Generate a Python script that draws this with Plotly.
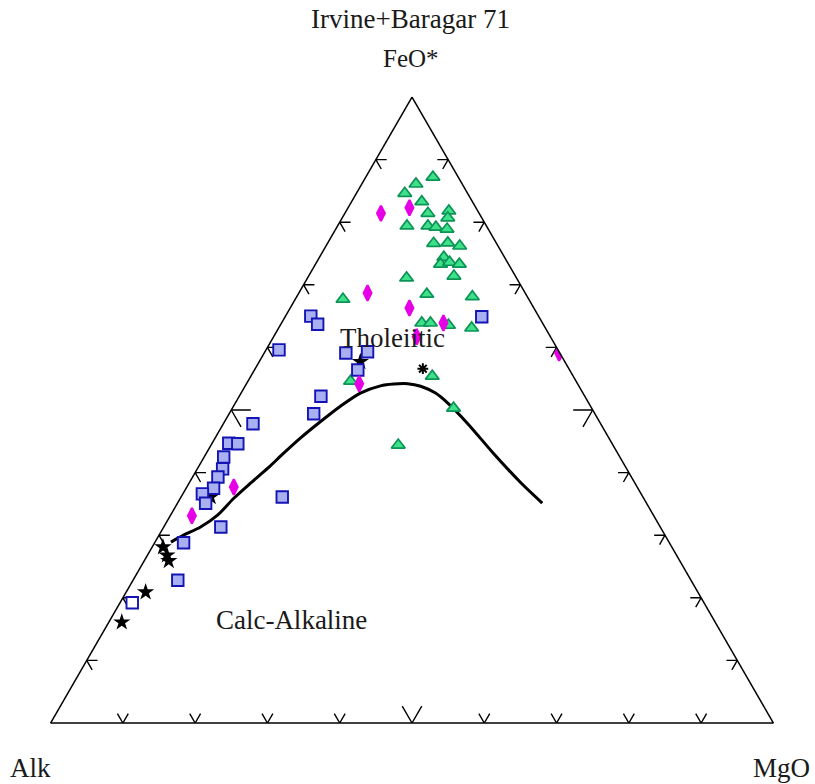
import plotly.graph_objects as go

# AFM diagram (Irvine & Baragar 1971): a = FeO*, b = Alk, c = MgO, all in %
# Tholeiitic / calc-alkaline dividing curve
curve_feo = [28.9, 30.0, 31.3, 33.2, 35.9, 38.3, 40.7, 43.1, 45.5, 48.2, 50.6, 52.7,
             53.8, 54.2, 54.2, 53.8, 52.7, 51.1, 47.9, 43.1, 38.5, 35.1]
curve_alk = [68.9, 66.6, 63.6, 60.3, 56.7, 53.2, 49.6, 46.2, 42.7, 38.5, 34.6, 30.8,
             27.4, 25.5, 23.5, 21.9, 20.4, 19.5, 18.4, 17.2, 15.8, 14.4]
curve_mgo = [2.2, 3.4, 5.1, 6.5, 7.4, 8.5, 9.7, 10.7, 11.8, 13.3, 14.8, 16.5,
             18.7, 20.4, 22.3, 24.3, 26.9, 29.4, 33.7, 39.7, 45.7, 50.4]

# Group 1 (green triangles)
tri_feo = [87.2, 86.1, 84.7, 83.2, 81.5, 81.8, 80.7, 79.4, 79.4, 79.2, 78.9, 76.7, 76.7,
           76.2, 74.4, 73.3, 73.6, 73.3, 71.4, 71.1, 68.5, 68.1, 67.7, 63.9, 63.9, 63.6,
           63.1, 54.6, 55.4, 50.3, 44.4]
tri_alk = [3.5, 6.4, 8.7, 7.0, 7.1, 4.0, 4.7, 11.0, 8.1, 7.1, 5.7, 8.7, 6.7,
           5.3, 8.4, 9.4, 8.0, 6.8, 8.5, 15.2, 13.7, 7.6, 25.7, 16.7, 15.5, 13.2,
           10.2, 31.2, 19.5, 19.1, 29.7]
tri_mgo = [9.3, 7.5, 6.7, 9.7, 11.5, 14.2, 14.6, 9.6, 12.5, 13.7, 15.4, 14.7, 16.6,
           18.5, 17.2, 17.3, 18.4, 19.9, 20.1, 13.7, 17.8, 24.3, 6.6, 19.4, 20.6, 23.3,
           26.7, 14.2, 25.1, 30.6, 25.9]

# Group 2 (magenta diamonds)
dia_feo = [81.5, 82.3, 68.7, 66.3, 63.9, 61.7, 54.2, 37.7, 33.1, 59.1]
dia_alk = [13.6, 9.2, 21.8, 17.2, 13.7, 18.5, 30.2, 55.8, 63.9, 0.1]
dia_mgo = [5.0, 8.5, 9.5, 16.5, 22.4, 19.8, 15.6, 6.5, 3.0, 40.8]

# Group 3 (blue squares)
sq_feo = [65.0, 63.7, 59.6, 59.1, 59.3, 56.4, 52.2, 49.4, 64.9, 47.8, 44.7, 44.6,
          42.5, 40.6, 39.3, 37.5, 36.6, 35.1, 36.1, 31.3, 28.8, 22.8]
sq_alk = [31.5, 31.2, 38.6, 29.6, 26.5, 29.3, 36.5, 38.9, 7.9, 48.1, 53.0, 51.8,
          54.8, 55.9, 57.2, 58.7, 60.7, 61.0, 49.9, 60.8, 67.2, 71.0]
sq_mgo = [3.5, 5.1, 1.8, 11.3, 14.2, 14.3, 11.3, 11.7, 27.2, 4.1, 2.3, 3.6,
          2.7, 3.5, 3.5, 3.8, 2.7, 3.9, 14.0, 7.9, 4.0, 6.2]

# Group 4 (open square)
osq_feo = [19.2]
osq_alk = [79.1]
osq_mgo = [1.7]

# Group 5 (black stars)
star_feo = [28.1, 26.8, 25.9, 20.9, 16.1, 36.1, 57.7]
star_alk = [70.4, 70.5, 70.7, 76.4, 82.1, 59.8, 28.3]
star_mgo = [1.5, 2.7, 3.4, 2.7, 1.8, 4.1, 14.0]

# Group 6 (asterisk)
ast_feo = [56.6]
ast_alk = [20.2]
ast_mgo = [23.2]

# Field labels
field_names = ["Tholeiitic", "Calc-Alkaline"]
field_feo = [61.2, 16.1]
field_alk = [22.1, 58.6]
field_mgo = [16.7, 25.3]

tick_values = [10, 20, 30, 40, 50, 60, 70, 80, 90]

SERIF = "Liberation Serif, Times New Roman, serif"
TEXT_COLOR = "#1a1a1a"


def chevrons(values):
    """Chevron ticks on the three edges; each arm runs parallel to one of
    the other two edges, pointing into the triangle."""
    A, B, C = [], [], []

    def add(pts):
        for p in pts:
            A.append(p[0]); B.append(p[1]); C.append(p[2])
        A.append(None); B.append(None); C.append(None)

    for v in values:
        d = 2.7 if v == 50 else 1.5
        # bottom edge (Alk - MgO)
        add([(d, 100 - v - d, v), (0, 100 - v, v), (d, 100 - v, v - d)])
        # right edge (MgO - FeO*)
        add([(v, d, 100 - v - d), (v, 0, 100 - v), (v - d, d, 100 - v)])
        # left edge (Alk - FeO*)
        add([(v, 100 - v - d, d), (v, 100 - v, 0), (v - d, 100 - v, d)])
    return A, B, C


fig = go.Figure()

ta, tb, tc = chevrons(tick_values)
fig.add_trace(go.Scatterternary(
    a=ta, b=tb, c=tc, mode="lines", connectgaps=False,
    line=dict(color="black", width=1.4), hoverinfo="skip", showlegend=False))

fig.add_trace(go.Scatterternary(
    a=curve_feo, b=curve_alk, c=curve_mgo, mode="lines",
    line=dict(color="black", width=3, shape="spline", smoothing=0.8),
    showlegend=False))

fig.add_trace(go.Scatterternary(
    a=star_feo, b=star_alk, c=star_mgo, mode="markers",
    marker=dict(symbol="star", size=13, color="black", line=dict(width=0)),
    showlegend=False))

fig.add_trace(go.Scatterternary(
    a=tri_feo, b=tri_alk, c=tri_mgo, mode="markers",
    marker=dict(symbol="triangle-up", size=12, color="#3ee08a",
                line=dict(color="#0b9455", width=1.7)),
    showlegend=False))

fig.add_trace(go.Scatterternary(
    a=sq_feo, b=sq_alk, c=sq_mgo, mode="markers",
    marker=dict(symbol="square", size=11.5, color="#a9b0f2",
                line=dict(color="#1414b4", width=1.9)),
    showlegend=False))

fig.add_trace(go.Scatterternary(
    a=osq_feo, b=osq_alk, c=osq_mgo, mode="markers",
    marker=dict(symbol="square", size=11.5, color="white",
                line=dict(color="#1414b4", width=1.9)),
    showlegend=False))

fig.add_trace(go.Scatterternary(
    a=dia_feo, b=dia_alk, c=dia_mgo, mode="markers",
    marker=dict(symbol="diamond-tall", size=11, color="#e600e6",
                line=dict(color="#e600e6", width=2.2)),
    showlegend=False))

fig.add_trace(go.Scatterternary(
    a=ast_feo, b=ast_alk, c=ast_mgo, mode="markers",
    marker=dict(symbol="asterisk-open", size=9, color="black",
                line=dict(color="black", width=2)),
    showlegend=False))

fig.add_trace(go.Scatterternary(
    a=field_feo, b=field_alk, c=field_mgo, mode="text", text=field_names,
    textposition="middle center",
    textfont=dict(family=SERIF, size=27, color=TEXT_COLOR),
    hoverinfo="skip", showlegend=False))

axis_style = dict(showticklabels=False, ticks="", showgrid=False,
                  linecolor="black", linewidth=1.5, title=dict(text=""),
                  min=0)

fig.update_layout(
    width=815, height=784,
    margin=dict(l=50, r=41, t=97, b=61),
    paper_bgcolor="white",
    ternary=dict(
        sum=100,
        bgcolor="white",
        aaxis=axis_style,
        baxis=axis_style,
        caxis=axis_style,
    ),
    annotations=[
        dict(text="Irvine+Baragar 71", x=0.4986, y=1.1246, xref="paper", yref="paper",
             showarrow=False, xanchor="center", yanchor="middle",
             font=dict(family=SERIF, size=27, color=TEXT_COLOR)),
        dict(text="FeO*", x=0.4986, y=1.0623, xref="paper", yref="paper",
             showarrow=False, xanchor="center", yanchor="middle",
             font=dict(family=SERIF, size=25, color=TEXT_COLOR)),
        dict(text="Alk", x=-0.0276, y=-0.0719, xref="paper", yref="paper",
             showarrow=False, xanchor="center", yanchor="middle",
             font=dict(family=SERIF, size=27, color=TEXT_COLOR)),
        dict(text="MgO", x=1.011, y=-0.0719, xref="paper", yref="paper",
             showarrow=False, xanchor="center", yanchor="middle",
             font=dict(family=SERIF, size=27, color=TEXT_COLOR)),
    ],
)

fig.write_html("out.html")
